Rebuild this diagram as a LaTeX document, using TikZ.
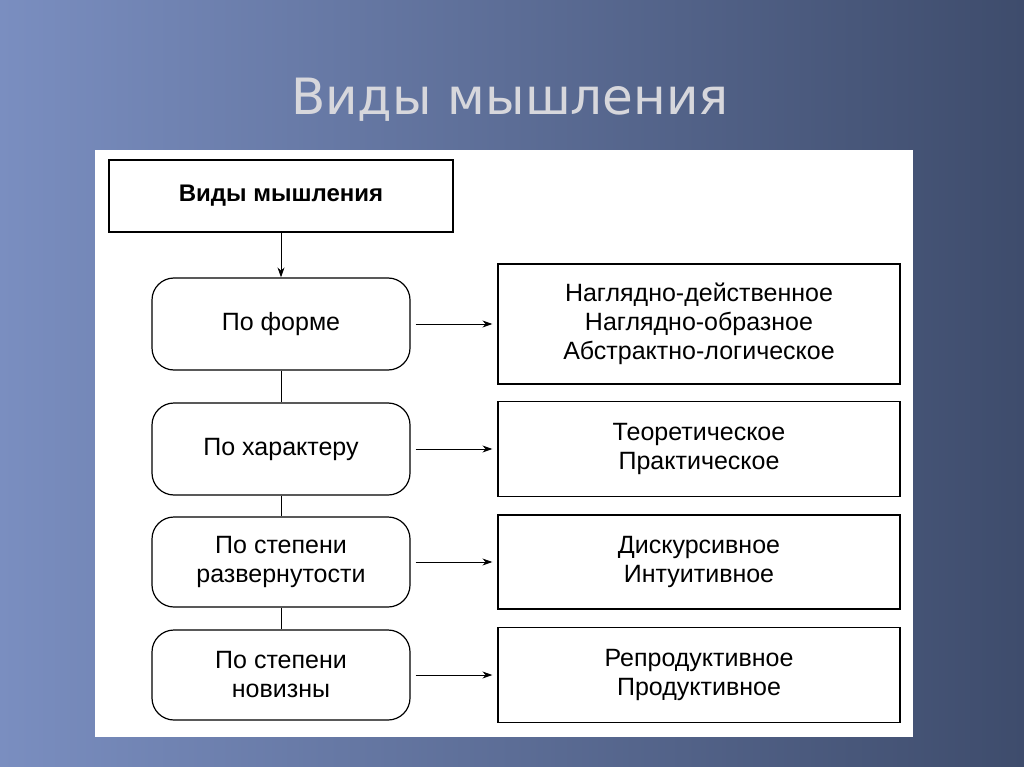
\documentclass[tikz,border=0pt]{standalone}
\usepackage{fontspec}
\setmainfont{Liberation Sans}
\newfontfamily\titlefont{DejaVu Sans}
\usetikzlibrary{arrows.meta}
\definecolor{bgl}{RGB}{122,142,192}
\definecolor{bgr}{RGB}{62,76,108}
\definecolor{ttl}{RGB}{215,215,220}
\begin{document}
\begin{tikzpicture}[x=1pt,y=-1pt,
  rbox/.style={draw,line width=1.2pt,rounded corners=22pt,minimum width=258pt,align=center,font=\fontsize{25}{29}\selectfont},
  tbox/.style={draw,line width=1.2pt,minimum width=402pt,align=center,font=\fontsize{25}{29}\selectfont},
  arr/.style={line width=1pt,-{Stealth[length=10pt,width=7pt]}}]
\shade[left color=bgl,right color=bgr] (0,0) rectangle (1024,767);
\useasboundingbox (0,0) rectangle (1024,767);
\node[text=ttl] (title) at (510,100) {\titlefont\fontsize{50}{56}\selectfont Виды мышления};
\fill[white] (95,150) rectangle (913,737);
\node[draw,line width=1.2pt,minimum width=344pt,minimum height=72pt,font=\bfseries\fontsize{24}{27}\selectfont] (top) at (281,196) {Виды мышления};
\node[rbox,minimum height=92pt] (r1) at (281,324) {По форме};
\node[rbox,minimum height=92pt] (r2) at (281,449) {По характеру};
\node[rbox,minimum height=90pt] (r3) at (281,562) {По степени\\развернутости};
\node[rbox,minimum height=90pt] (r4) at (281,675) {По степени\\новизны};
\node[tbox,minimum height=120pt] (b1) at (699,324) {Наглядно-действенное\\Наглядно-образное\\Абстрактно-логическое};
\node[tbox,minimum height=95pt] (b2) at (699,449) {Теоретическое\\Практическое};
\node[tbox,minimum height=94pt] (b3) at (699,562) {Дискурсивное\\Интуитивное};
\node[tbox,minimum height=95pt] (b4) at (699,675) {Репродуктивное\\Продуктивное};
\draw[arr] (top.south) -- (r1.north);
\draw[line width=1pt] (r1) -- (r2) (r2) -- (r3) (r3) -- (r4);
\foreach \i in {1,2,3,4} \draw[arr] ([xshift=5pt]r\i.east) -- ([xshift=-5pt]b\i.west);
\end{tikzpicture}
\end{document}
